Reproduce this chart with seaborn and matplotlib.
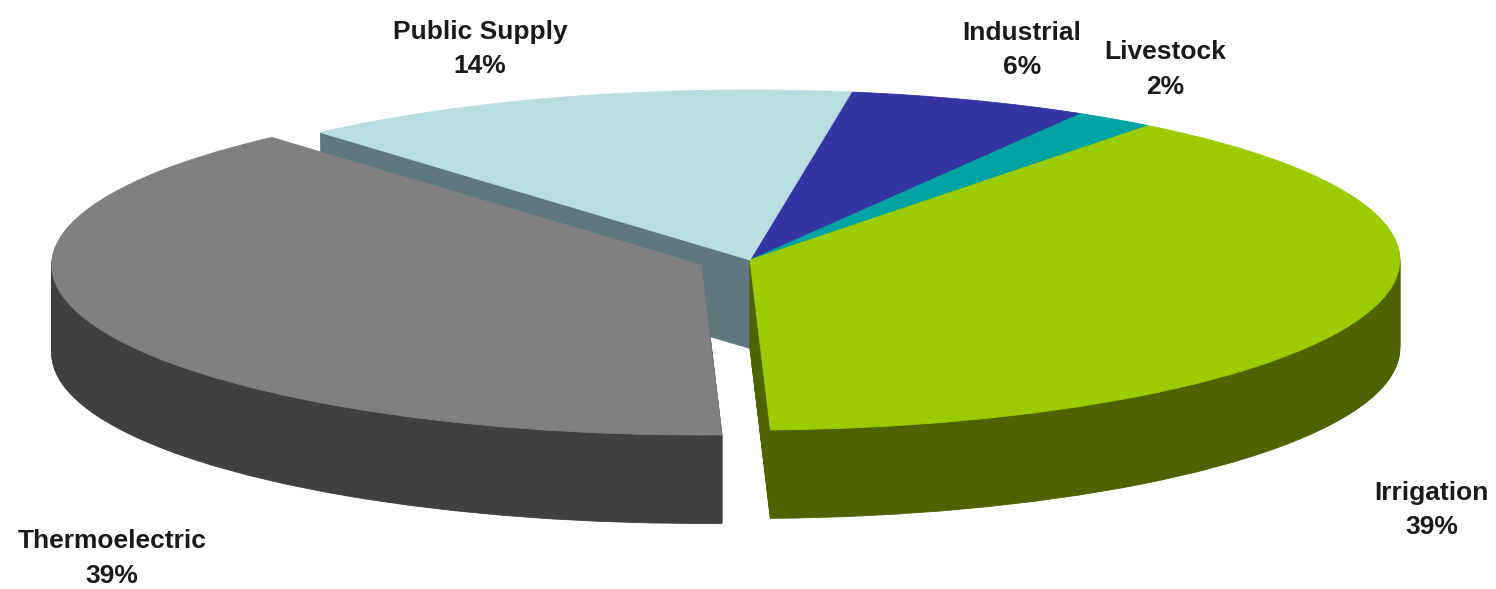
import matplotlib
matplotlib.use("Agg")
import matplotlib.pyplot as plt
import seaborn as sns

# ---- data (clockwise from the top) ----
categories = ["Industrial", "Livestock", "Irrigation", "Thermoelectric", "Public Supply"]
shares = [6, 2, 39, 39, 14]
pct_labels = ["6%", "2%", "39%", "39%", "14%"]
explode = [0, 0, 0, 0.08, 0]

# ---- styles ----
top_colors = ["#3434a2", "#00a3a3", "#9acc00", "#808080", "#b9dee2"]
side_colors = ["#20206a", "#006868", "#4e6300", "#404040", "#5f7880"]
label_pos = [(0.683, 0.915), (0.779, 0.882), (0.957, 0.134), (0.075, 0.052), (0.321, 0.917)]

sns.set_theme(style="white")
plt.rcParams['font.family'] = ['Liberation Sans', 'DejaVu Sans']

fig = plt.figure(figsize=(14.96, 5.89), dpi=100)
fig.patch.set_facecolor("white")
ax = fig.add_axes([0, 0, 1, 1])

start = 81
depth = 0.52
n_layers = 90

def draw(center_y, colors):
    wedges, _ = ax.pie(shares, explode=explode, colors=colors, startangle=start,
                       counterclock=False, center=(0, center_y),
                       wedgeprops=dict(linewidth=0.6))
    for w in wedges:
        w.set_edgecolor(w.get_facecolor())

for k in range(n_layers, 0, -1):
    draw(-depth * k / n_layers, side_colors)
draw(0, top_colors)

ax.set_aspect('auto')
ax.set_xlim(-1.154, 1.148)
ax.set_ylim(-1.935, 1.529)
ax.axis('off')

for name, pct, (x, y) in zip(categories, pct_labels, label_pos):
    ax.text(x, y, f"{name}\n{pct}", transform=ax.transAxes, ha='center', va='center',
            fontsize=19, fontweight='bold', color='#1a1a1a', linespacing=1.55)

fig.savefig("out.png", dpi=100, facecolor="white")
